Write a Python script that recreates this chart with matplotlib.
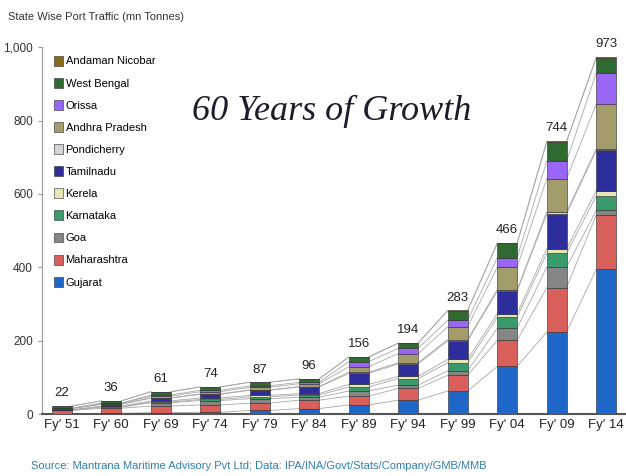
import numpy as np
import matplotlib
matplotlib.use('Agg')
import matplotlib.pyplot as plt
from matplotlib.ticker import FuncFormatter
from matplotlib.patches import Patch

# Years and state-wise traffic (mn tonnes)
years = ["Fy' 51", "Fy' 60", "Fy' 69", "Fy' 74", "Fy' 79", "Fy' 84",
         "Fy' 89", "Fy' 94", "Fy' 99", "Fy' 04", "Fy' 09", "Fy' 14"]
totals = [22, 36, 61, 74, 87, 96, 156, 194, 283, 466, 744, 973]

gujarat     = [1, 2, 4, 5, 10, 15, 25, 38, 63, 130, 224, 395]
maharashtra = [9, 14, 18, 20, 20, 23, 24, 32, 43, 71, 121, 148]
goa         = [1, 3, 9, 12, 12, 8, 14, 9, 12, 33, 56, 12]
karnataka   = [0, 1, 2, 3, 5, 6, 11, 18, 22, 30, 37, 40]
kerela      = [1, 2, 3, 4, 4, 4, 7, 6, 9, 10, 13, 14]
tamilnadu   = [3, 5, 8, 10, 14, 18, 30, 34, 51, 61, 95, 110]
pondicherry = [0, 0, 0, 1, 1, 1, 3, 3, 3, 4, 5, 4]
andhra      = [1, 2, 5, 6, 7, 8, 15, 25, 35, 61, 91, 122]
orissa      = [0, 1, 3, 4, 4, 4, 14, 14, 18, 26, 48, 85]
west_bengal = [6, 6, 9, 9, 10, 9, 12, 14, 26, 39, 52, 41]
andaman     = [0, 0, 0, 0, 0, 0, 1, 1, 1, 1, 2, 2]

states = ["Gujarat", "Maharashtra", "Goa", "Karnataka", "Kerela", "Tamilnadu",
          "Pondicherry", "Andhra Pradesh", "Orissa", "West Bengal", "Andaman Nicobar"]
series = [gujarat, maharashtra, goa, karnataka, kerela, tamilnadu,
          pondicherry, andhra, orissa, west_bengal, andaman]
colors = ["#1f66c9", "#d95f5b", "#858585", "#3b9a6b", "#e6e6b4", "#2d2e9c",
          "#d4d4dc", "#a39d6c", "#9a66f5", "#2f6b30", "#8c6a1c"]

plt.rcParams['font.family'] = ['Liberation Sans Narrow', 'Liberation Sans', 'DejaVu Sans']

fig = plt.figure(figsize=(6.26, 4.76), dpi=100)
ax = fig.add_axes([0.067, 0.130, 0.933, 0.771])

x = np.arange(len(years))
width = 0.4
bottom = np.zeros(len(years))
levels = []
for vals, col, name in zip(series, colors, states):
    vals = np.array(vals, dtype=float)
    ax.bar(x, vals, width, bottom=bottom, color=col, edgecolor='#2a2a2a',
           linewidth=0.4, label=name, zorder=3)
    bottom = bottom + vals
    levels.append(bottom.copy())

# thin series lines joining the stack boundaries of neighbouring bars
for lev in levels:
    for i in range(len(years) - 1):
        ax.plot([x[i] + width / 2, x[i + 1] - width / 2], [lev[i], lev[i + 1]],
                color='#a8a8a8', linewidth=0.6, zorder=2)

# totals above the bars
for xi, tot, top in zip(x, totals, bottom):
    ax.text(xi, top + 18, str(tot), ha='center', va='bottom', fontsize=9.5,
            color='#222222')

ax.set_xlim(-0.4, 11.4)
ax.set_ylim(0, 1000)
ax.set_xticks(x)
ax.set_xticklabels(years, fontsize=9.5, color='#222222')
ax.set_yticks([0, 200, 400, 600, 800, 1000])
ax.yaxis.set_major_formatter(FuncFormatter(lambda v, p: f"{int(v):,}"))
ax.tick_params(axis='y', labelsize=8.5, colors='#333333', length=3, color='#999999')
ax.tick_params(axis='x', length=3, color='#555555', direction='in')
for s in ['top', 'right']:
    ax.spines[s].set_visible(False)
ax.spines['left'].set_color('#9a9a9a')
ax.spines['bottom'].set_color('#555555')
ax.spines['bottom'].set_linewidth(1.5)

handles = [Patch(facecolor=c, edgecolor='#2a2a2a', linewidth=0.4) for c in colors]
ax.legend(handles[::-1], states[::-1], loc='upper left', bbox_to_anchor=(0.01, 0.995),
          frameon=False, fontsize=8, labelspacing=1.02, handlelength=0.8,
          handleheight=1.0, handletextpad=0.2, borderaxespad=0.2)

fig.text(0.013, 0.965, "State Wise Port Traffic (mn Tonnes)", fontsize=8,
         color='#333333', va='center')
fig.text(0.53, 0.765, "60 Years of Growth", fontsize=26, style='italic',
         family=['Liberation Serif', 'DejaVu Serif'], color='#1c1c2c',
         ha='center', va='center')
fig.text(0.05, 0.022, "Source: Mantrana Maritime Advisory Pvt Ltd; Data: IPA/INA/Govt/Stats/Company/GMB/MMB",
         fontsize=8, color='#2f7fae', va='center')

fig.savefig('out.png', dpi=100)
